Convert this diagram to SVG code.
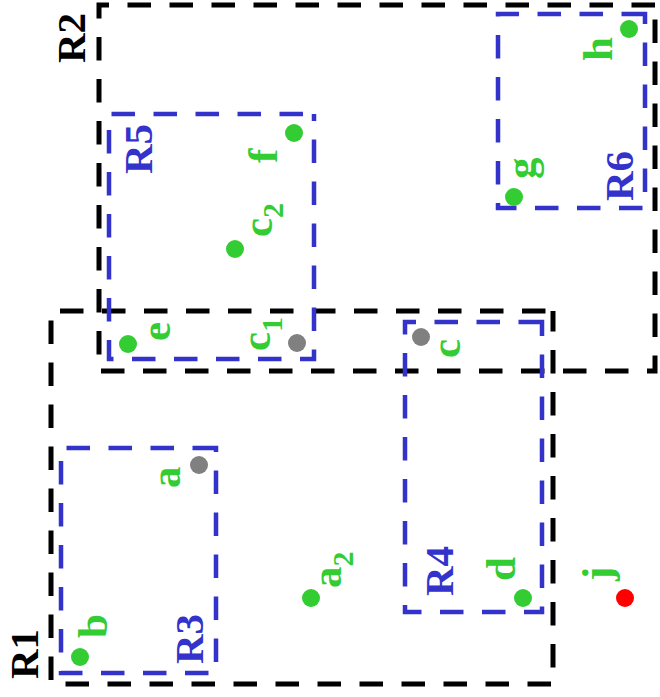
<svg xmlns="http://www.w3.org/2000/svg" width="660" height="697" viewBox="0 0 660 697">
<style>
.rk{fill:none;stroke:#000;stroke-width:5;stroke-dasharray:23.5 18.5}
.rb{fill:none;stroke:#3333cc;stroke-width:4.5;stroke-dasharray:23.5 18.5}
.lk{font-family:"Liberation Serif",serif;font-weight:bold;font-size:41px;fill:#000}
.lb{font-family:"Liberation Serif",serif;font-weight:bold;font-size:41px;fill:#3333cc}
.lg{font-family:"Liberation Serif",serif;font-weight:bold;font-size:43px;fill:#33cc33}
.sub{font-size:30px}
.pg{fill:#33cc33}
.pn{fill:#808080}
.pr{fill:#ff0000}
</style>
<rect width="660" height="697" fill="#fff"/>
<g id="R2">
<path class="rk" d="M655,5 H99 V371 H655 Z"/>
<text class="lk" transform="translate(85,63) rotate(-90)">R2</text>
</g>
<g id="R1">
<path class="rk" style="stroke-dashoffset:34.5" d="M553,311 H51 V684 H553 Z"/>
<text class="lk" transform="translate(38,679) rotate(-90)">R1</text>
</g>
<g id="R5">
<path class="rb" style="stroke-dashoffset:31" d="M314,114 H109 V359 H314 Z"/>
<text class="lb" transform="translate(152,174) rotate(-90)">R5</text>
</g>
<g id="R6">
<path class="rb" d="M645,14 H498 V208 H645 Z"/>
<text class="lb" transform="translate(633,201) rotate(-90)">R6</text>
</g>
<g id="R3">
<path class="rb" d="M216,448 H61 V673 H216 Z"/>
<text class="lb" transform="translate(203,664) rotate(-90)">R3</text>
</g>
<g id="R4">
<path class="rb" d="M542,322 H405 V612 H542 Z"/>
<text class="lb" transform="translate(453,596) rotate(-90)">R4</text>
</g>
<g id="h">
<circle class="pg" cx="629" cy="29" r="9"/>
<text class="lg" transform="translate(612,61) rotate(-90)">h</text>
</g>
<g id="g">
<circle class="pg" cx="514" cy="197" r="9"/>
<text class="lg" transform="translate(535,179) rotate(-90)">g</text>
</g>
<g id="f">
<circle class="pg" cx="294" cy="133" r="9"/>
<text class="lg" transform="translate(277,163) rotate(-90)">f</text>
</g>
<g id="c2">
<circle class="pg" cx="235" cy="249" r="9"/>
<text class="lg" transform="translate(272,237) rotate(-90)">c<tspan class="sub" dy="11">2</tspan></text>
</g>
<g id="e">
<circle class="pg" cx="128" cy="344" r="9"/>
<text class="lg" transform="translate(170,341) rotate(-90)">e</text>
</g>
<g id="c1">
<circle class="pn" cx="297" cy="343" r="9"/>
<text class="lg" transform="translate(270,351) rotate(-90)">c<tspan class="sub" dy="12">1</tspan></text>
</g>
<g id="c">
<circle class="pn" cx="421" cy="337" r="9"/>
<text class="lg" transform="translate(460,358) rotate(-90)">c</text>
</g>
<g id="a">
<circle class="pn" cx="199" cy="465" r="9"/>
<text class="lg" transform="translate(180,488) rotate(-90)">a</text>
</g>
<g id="a2">
<circle class="pg" cx="311" cy="598" r="9"/>
<text class="lg" transform="translate(341,588) rotate(-90)">a<tspan class="sub" dy="12">2</tspan></text>
</g>
<g id="b">
<circle class="pg" cx="80" cy="657" r="9"/>
<text class="lg" transform="translate(107,638) rotate(-90)">b</text>
</g>
<g id="d">
<circle class="pg" cx="523" cy="598" r="9"/>
<text class="lg" transform="translate(515,581) rotate(-90)">d</text>
</g>
<g id="j">
<circle class="pr" cx="625" cy="598" r="9"/>
<text class="lg" transform="translate(611,581) rotate(-90)">j</text>
</g>
</svg>
